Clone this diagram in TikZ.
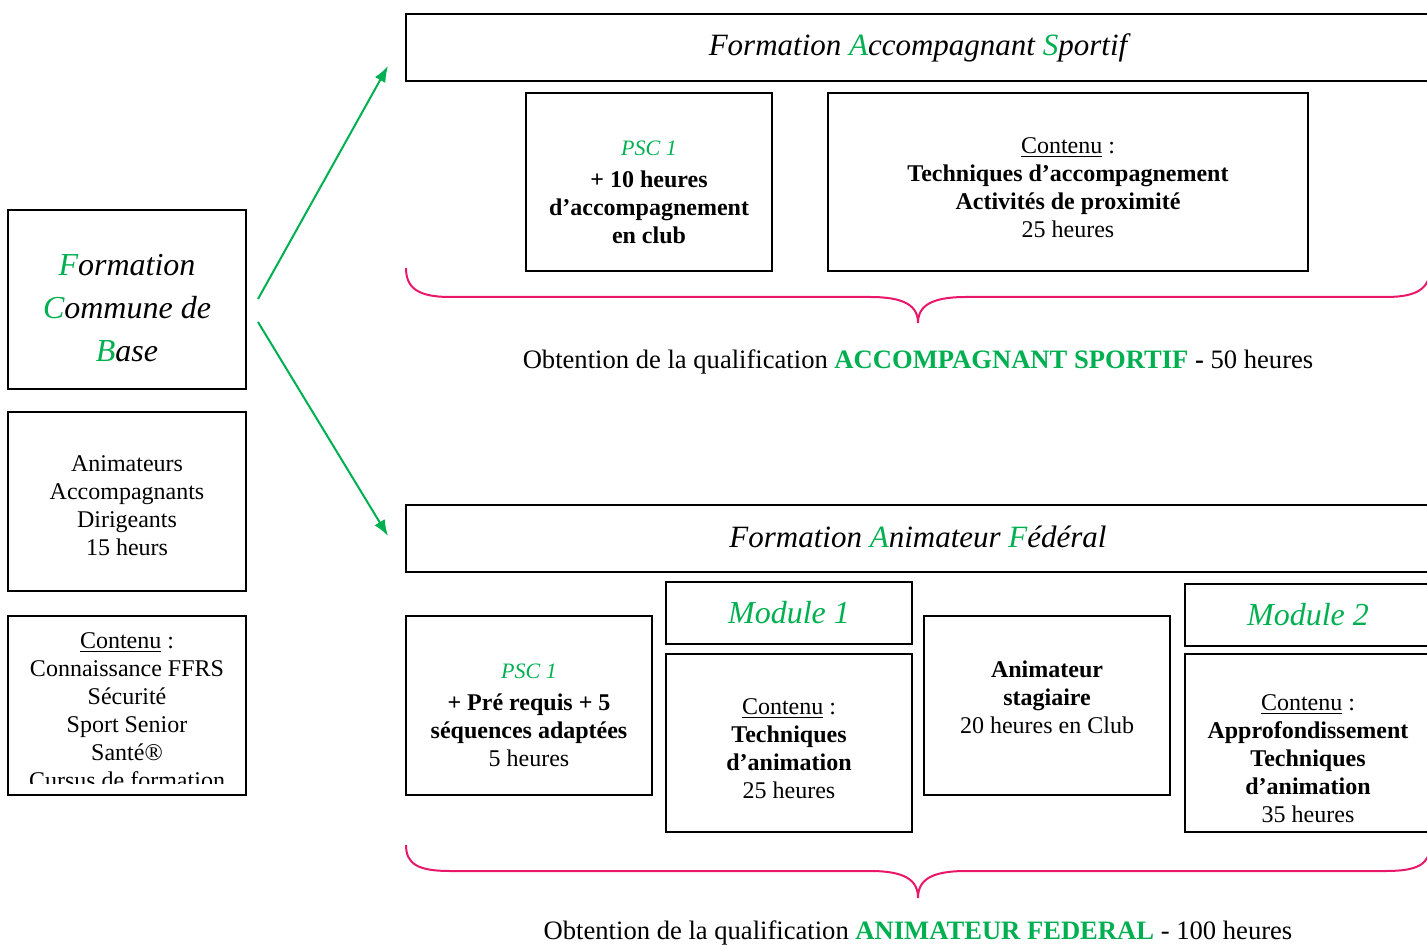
\documentclass[tikz,border=0pt]{standalone}
\usepackage{fontspec}
\setmainfont{Liberation Serif}
\usetikzlibrary{arrows.meta,calc}
\definecolor{grn}{HTML}{00B050}
\definecolor{pnk}{HTML}{E8176A}
\newcommand{\scrf}{\itshape}
\newcommand{\pscf}{\fontsize{11}{14}\selectfont\itshape\color{grn}}
\newcommand{\gl}[1]{\textcolor{grn}{#1}}
\begin{document}
\begin{tikzpicture}[x=0.5pt,y=-0.5pt,
  every node/.style={font=\fontsize{12}{14}\selectfont},
  box/.style={draw,line width=1pt,align=center,inner sep=0pt},
  txt/.style={align=center,inner sep=0pt},
  smallbox/.style={box,minimum width=123pt,minimum height=89pt},
  leftbox/.style={box,minimum width=119pt,minimum height=89.5pt},
  titlebox/.style={box,minimum width=512pt,minimum height=33.5pt},
  titletxt/.style={txt,font=\fontsize{15.5}{18}\selectfont\scrf},
  modbox/.style={box,minimum width=123pt,minimum height=31pt,font=\fontsize{16}{18}\selectfont\scrf\color{grn}},
  garrow/.style={draw=grn,line width=1pt,-{Latex[length=8pt,width=6pt]}},
  brace/.style={draw=pnk,line width=1pt},
  result/.style={font=\fontsize{13.3}{15}\selectfont}]
\useasboundingbox (0,0) rectangle (1427,945);

% left column
\node[leftbox] (base) at (127,299.5) {};
\node[txt,font=\fontsize{16}{21.5}\selectfont\scrf] (baset) at ($(base.center)+(0,9)$)
  {\gl{F}ormation\\\gl{C}ommune de\\\gl{B}ase};
\node[leftbox] (public) at (127,501.5) {};
\node[txt] (publict) at ($(public.center)+(0,4)$)
  {Animateurs\\Accompagnants\\Dirigeants\\15 heurs};
\node[leftbox] (contbase) at (127,705.5) {};
\begin{scope}
  \clip (9,617) rectangle (245,783);
  \node[txt,anchor=north] (contbasetxt) at (127,632)
    {\underline{Contenu} :\\Connaissance FFRS\\Sécurité\\Sport Senior\\Santé®\\Cursus de formation};
\end{scope}

% arrows
\coordinate (a1s) at (258,299);
\coordinate (a1e) at (388,66);
\coordinate (a2s) at (258,322);
\coordinate (a2e) at (388,536);
\draw[garrow] (a1s) -- (a1e);
\draw[garrow] (a2s) -- (a2e);

% top formation
\node[titlebox] (fas) at (918,47.5) {};
\node[titletxt] (fast) at ($(fas.center)+(0,0)$) {Formation \gl{A}ccompagnant \gl{S}portif};
\node[smallbox] (psc1) at (649,182) {};
\node[txt] (psc1t) at ($(psc1.center)+(0,10)$)
  {{\pscf PSC 1}\\[2pt]\textbf{+ 10 heures}\\\textbf{d’accompagnement}\\\textbf{en club}};
\node[smallbox,minimum width=240pt] (cont1) at (1068,182) {};
\node[txt] (cont1t) at ($(cont1.center)+(0,6)$)
  {\underline{Contenu} :\\\textbf{Techniques d’accompagnement}\\\textbf{Activités de proximité}\\25 heures};
\draw[brace] (406,268) .. controls (406,288) and (418,297) .. (450,297)
  -- (870,297) .. controls (905,297) and (918,306) .. (918,323)
  .. controls (918,306) and (931,297) .. (966,297)
  -- (1386,297) .. controls (1418,297) and (1430,288) .. (1430,268);
\node[result] (res1) at (918,362)
  {Obtention de la qualification \textbf{\gl{ACCOMPAGNANT SPORTIF}} \textbf{-} 50 heures};

% bottom formation
\node[titlebox] (faf) at (918,538.5) {};
\node[titletxt] (faft) at ($(faf.center)+(0,-2)$) {Formation \gl{A}nimateur \gl{F}édéral};
\node[smallbox,minimum height=89.5pt] (psc2) at (529,705.5) {};
\node[txt] (psc2t) at ($(psc2.center)+(0,10)$)
  {{\pscf PSC 1}\\[2pt]\textbf{+ Pré requis + 5}\\\textbf{séquences adaptées}\\5 heures};
\node[modbox] (mod1) at (789,613) {Module 1};
\node[smallbox] (cont2) at (789,743) {};
\node[txt] (cont2t) at ($(cont2.center)+(0,6)$)
  {\underline{Contenu} :\\\textbf{Techniques}\\\textbf{d’animation}\\25 heures};
\node[smallbox,minimum height=89.5pt] (anim) at (1047,705.5) {};
\node[txt] (animt) at ($(anim.center)+(0,-8)$)
  {\textbf{Animateur}\\\textbf{stagiaire}\\20 heures en Club};
\node[modbox] (mod2) at (1308,615) {Module 2};
\node[smallbox] (cont3) at (1308,743) {};
\node[txt] (cont3t) at ($(cont3.center)+(0,16)$)
  {\underline{Contenu} :\\\textbf{Approfondissement}\\\textbf{Techniques}\\\textbf{d’animation}\\35 heures};
\draw[brace] (406,845) .. controls (406,864) and (418,871) .. (450,871)
  -- (870,871) .. controls (905,871) and (918,880) .. (918,898)
  .. controls (918,880) and (931,871) .. (966,871)
  -- (1386,871) .. controls (1418,871) and (1430,864) .. (1430,845);
\node[result] (res2) at (918,933)
  {Obtention de la qualification \textbf{\gl{ANIMATEUR FEDERAL}} - 100 heures};
\end{tikzpicture}
\end{document}
